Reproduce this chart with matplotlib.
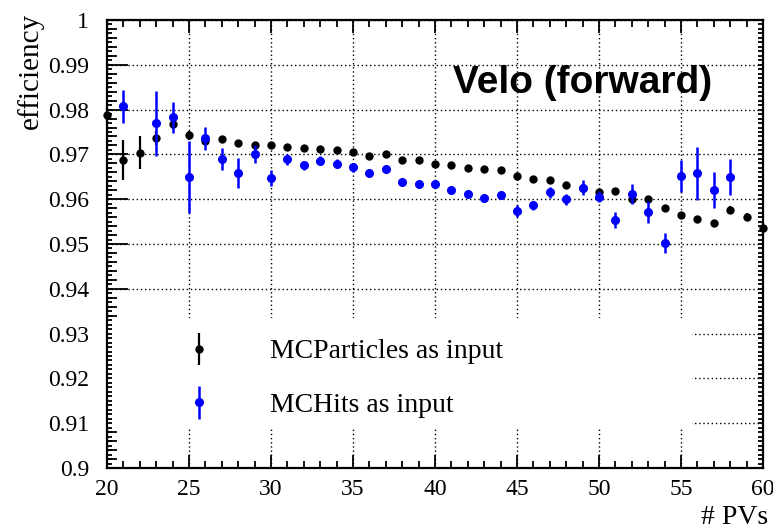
import matplotlib
matplotlib.use('Agg')
import matplotlib.pyplot as plt
from matplotlib.ticker import MultipleLocator, NullLocator
from matplotlib.patches import Rectangle
from matplotlib.legend_handler import HandlerErrorbar

plt.rcParams['font.family'] = ['Liberation Serif', 'DejaVu Serif']

# MCParticles as input (black)
pv_particles = list(range(20, 61))
eff_particles = [0.9788, 0.9688, 0.9704, 0.9737, 0.9768, 0.9743, 0.9730, 0.9734,
                 0.9726, 0.9721, 0.9720, 0.9716, 0.9714, 0.9712, 0.9710, 0.9705,
                 0.9696, 0.9702, 0.9688, 0.9688, 0.9679, 0.9676, 0.9669, 0.9668,
                 0.9666, 0.9651, 0.9644, 0.9642, 0.9632, 0.9626, 0.9615, 0.9618,
                 0.9600, 0.9600, 0.9580, 0.9565, 0.9556, 0.9547, 0.9576, 0.9561,
                 0.9535]
err_particles = [0.0015, 0.0045, 0.0037, 0.0015, 0.0012, 0.0010, 0.0005, 0.0005,
                 0.0005, 0.0005, 0.0005, 0.0005, 0.0005, 0.0005, 0.0005, 0.0005,
                 0.0005, 0.0005, 0.0005, 0.0005, 0.0005, 0.0005, 0.0005, 0.0005,
                 0.0005, 0.0006, 0.0006, 0.0006, 0.0006, 0.0006, 0.0006, 0.0007,
                 0.0007, 0.0007, 0.0007, 0.0007, 0.0007, 0.0007, 0.0009, 0.0009,
                 0.0011]

# MCHits as input (blue)
pv_hits = [21] + list(range(23, 59))
eff_hits = [0.9807, 0.9769, 0.9783, 0.9649, 0.9736, 0.9690, 0.9658, 0.9701,
            0.9648, 0.9689, 0.9676, 0.9686, 0.9679, 0.9671, 0.9658, 0.9667,
            0.9639, 0.9633, 0.9633, 0.9621, 0.9611, 0.9603, 0.9610, 0.9573,
            0.9587, 0.9615, 0.9600, 0.9626, 0.9606, 0.9554, 0.9612, 0.9572,
            0.9503, 0.9652, 0.9658, 0.9621, 0.9649]
err_hits = [0.0037, 0.0072, 0.0035, 0.0080, 0.0026, 0.0024, 0.0034, 0.0020,
            0.0018, 0.0012, 0.0010, 0.0010, 0.0010, 0.0010, 0.0008, 0.0008,
            0.0008, 0.0008, 0.0008, 0.0008, 0.0008, 0.0008, 0.0008, 0.0013,
            0.0010, 0.0013, 0.0012, 0.0016, 0.0013, 0.0018, 0.0022, 0.0025,
            0.0022, 0.0035, 0.0059, 0.0040, 0.0040]

fig = plt.figure(figsize=(7.73, 5.32), dpi=100)
ax = fig.add_axes([0.1384, 0.1203, 0.8487, 0.8421])

ax.set_xlim(20, 60)
ax.set_ylim(0.9, 1.0)

# grid (dotted, major only)
ax.set_axisbelow(True)
ax.grid(True, which='major', color='black', linestyle=(0, (1, 2)), linewidth=1.0)

# white legend box hides the grid
ax.add_patch(Rectangle((0.0, 0.0915), 0.892, 0.2435, transform=ax.transAxes,
                       facecolor='white', edgecolor='none', zorder=1.5))

h1 = ax.errorbar(pv_particles, eff_particles, yerr=err_particles, fmt='o',
                 color='black', markersize=5, elinewidth=1.6, capsize=0,
                 zorder=3, clip_on=False)
h2 = ax.errorbar(pv_hits, eff_hits, yerr=err_hits, fmt='o',
                 color='#0000ff', markersize=5.5, elinewidth=1.8, capsize=0,
                 zorder=4)

# ticks
ax.xaxis.set_major_locator(MultipleLocator(5))
ax.xaxis.set_minor_locator(MultipleLocator(1))
ax.yaxis.set_major_locator(MultipleLocator(0.01))
ax.yaxis.set_minor_locator(MultipleLocator(0.002))
ax.tick_params(axis='both', which='both', direction='in', top=True, right=True,
               width=1.3, labelsize=17)
ax.tick_params(axis='y', which='major', length=15, pad=13)
ax.tick_params(axis='y', which='minor', length=7.5)
ax.tick_params(axis='x', which='major', length=9.5, pad=8)
ax.tick_params(axis='x', which='minor', length=4.8)
ax.set_yticks([0.9, 0.91, 0.92, 0.93, 0.94, 0.95, 0.96, 0.97, 0.98, 0.99, 1.0])
ax.set_yticklabels(['0.9', '0.91', '0.92', '0.93', '0.94', '0.95', '0.96',
                    '0.97', '0.98', '0.99', '1'])
for lab in ax.get_xticklabels() + ax.get_yticklabels():
    lab.set_fontfamily('Liberation Serif')
for s in ax.spines.values():
    s.set_linewidth(1.6)

# finer third-level y ticks
ax2 = ax.twinx()
ax2.set_ylim(0.9, 1.0)
ax2.yaxis.set_major_locator(NullLocator())
ax2.yaxis.set_minor_locator(MultipleLocator(0.001))
ax2.tick_params(axis='y', which='minor', direction='in', left=True, right=True,
                length=3.8, width=1.3, labelleft=False, labelright=False)
for s in ax2.spines.values():
    s.set_visible(False)

ax.text(0.527, 0.859, 'Velo (forward)', transform=ax.transAxes,
        family='Liberation Sans', fontweight='bold', fontsize=28,
        ha='left', va='center', zorder=5)

fig.text(30 / 773, 1 - 13 / 532, 'efficiency', rotation=90, ha='center',
         va='top', fontsize=21)
fig.text(768 / 773, 1 - 518 / 532, '# PVs', ha='right', va='center', fontsize=20)

leg = ax.legend([h1, h2], ['MCParticles as input', 'MCHits as input'],
                loc='upper left', bbox_to_anchor=(0.0976, 0.288),
                frameon=False, fontsize=20, handlelength=2.0,
                handletextpad=1.56, labelspacing=1.02, borderpad=0,
                borderaxespad=0,
                handler_map={type(h1): HandlerErrorbar(xerr_size=0.58)})
leg.set_zorder(6)

fig.savefig('out.png', dpi=100)
